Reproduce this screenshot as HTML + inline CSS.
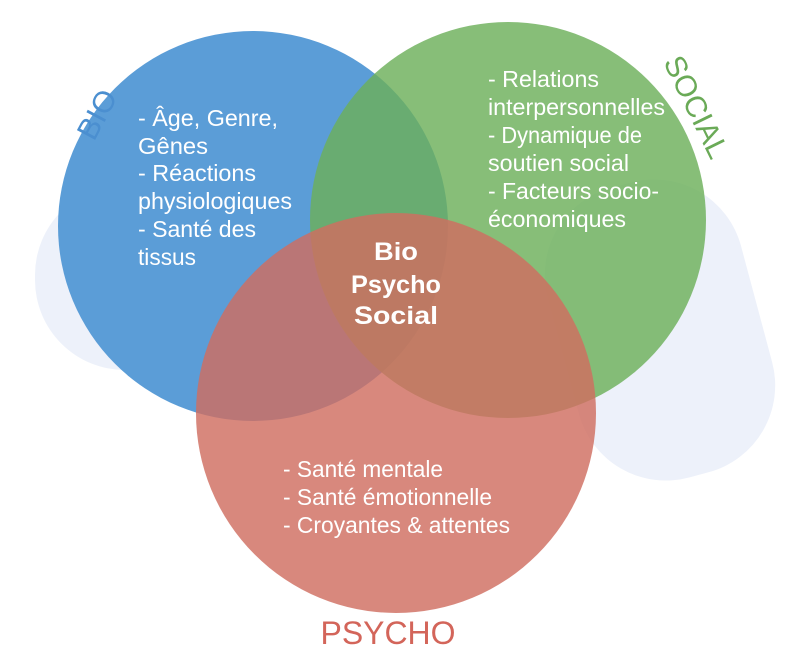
<!DOCTYPE html>
<html><head><meta charset="utf-8"><style>
body{margin:0;background:#fff;}
svg{display:block;}
text{font-family:"Liberation Sans",sans-serif;}
</style></head><body>
<svg width="800" height="658" viewBox="0 0 800 658">
<rect x="0" y="0" width="800" height="658" fill="#fff"/>
<g fill="#edf1fa">
<rect x="35" y="185" width="260" height="185" rx="90"/>
<rect x="560" y="180" width="200" height="300" rx="90" transform="rotate(-15 660 330)"/>
</g>
<circle cx="253" cy="226" r="195" fill="#5b9dd7"/>
<circle cx="508" cy="220" r="198" fill="#6cb05a" fill-opacity="0.82"/>
<circle cx="396" cy="413" r="200" fill="#d06e60" fill-opacity="0.82"/>
<g fill="#fff" font-size="23">
<text x="138" y="126" textLength="140" lengthAdjust="spacingAndGlyphs">- Âge, Genre,</text>
<text x="138" y="154" textLength="70" lengthAdjust="spacingAndGlyphs">Gênes</text>
<text x="138" y="181" textLength="118" lengthAdjust="spacingAndGlyphs">- Réactions</text>
<text x="138" y="209" textLength="154" lengthAdjust="spacingAndGlyphs">physiologiques</text>
<text x="138" y="237" textLength="118" lengthAdjust="spacingAndGlyphs">- Santé des</text>
<text x="138" y="265" textLength="58" lengthAdjust="spacingAndGlyphs">tissus</text>
<text x="488" y="87" textLength="111" lengthAdjust="spacingAndGlyphs">- Relations</text>
<text x="488" y="115" textLength="177" lengthAdjust="spacingAndGlyphs">interpersonnelles</text>
<text x="488" y="143" textLength="154" lengthAdjust="spacingAndGlyphs">- Dynamique de</text>
<text x="488" y="171" textLength="141" lengthAdjust="spacingAndGlyphs">soutien social</text>
<text x="488" y="199" textLength="171" lengthAdjust="spacingAndGlyphs">- Facteurs socio-</text>
<text x="488" y="227" textLength="138" lengthAdjust="spacingAndGlyphs">économiques</text>
<text x="283" y="477" textLength="160" lengthAdjust="spacingAndGlyphs">- Santé mentale</text>
<text x="283" y="505" textLength="209" lengthAdjust="spacingAndGlyphs">- Santé émotionnelle</text>
<text x="283" y="533" textLength="227" lengthAdjust="spacingAndGlyphs">- Croyantes &amp; attentes</text>
</g>
<g fill="#fff" font-size="25" font-weight="bold" text-anchor="middle">
<text x="396" y="260" textLength="44" lengthAdjust="spacingAndGlyphs">Bio</text>
<text x="396" y="293" textLength="90" lengthAdjust="spacingAndGlyphs">Psycho</text>
<text x="396" y="324" textLength="84" lengthAdjust="spacingAndGlyphs">Social</text>
</g>
<text x="0" y="0" font-size="30" fill="#4b8fd0" transform="translate(94,142) rotate(-62)">BIO</text>
<text x="0" y="0" font-size="30" fill="#6aaa57" transform="translate(663,62) rotate(64)">SOCIAL</text>
<text x="388" y="644" font-size="32" fill="#d3655a" text-anchor="middle" textLength="135" lengthAdjust="spacingAndGlyphs">PSYCHO</text>
</svg>
</body></html>
